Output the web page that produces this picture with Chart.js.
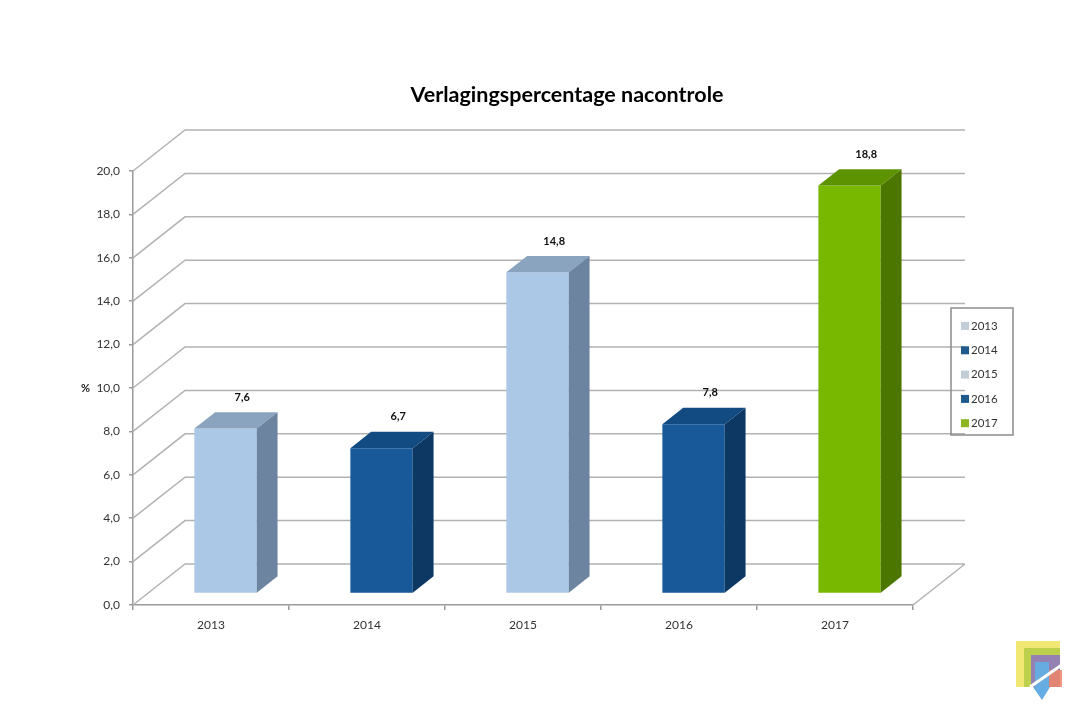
<!DOCTYPE html>
<html>
<head>
<meta charset="utf-8">
<script src="https://cdn.jsdelivr.net/npm/chart.js@4/dist/chart.umd.min.js"></script>
<style>
  html, body { margin: 0; padding: 0; background: #ffffff; }
  #wrap { width: 1070px; height: 713px; position: relative; }
</style>
</head>
<body>
<div id="wrap"><canvas id="c"></canvas></div>
<script>
// ---- data ----
const chartTitle = 'Verlagingspercentage nacontrole';
const categories = ['2013', '2014', '2015', '2016', '2017'];
const values = [7.6, 6.7, 14.8, 7.8, 18.8];
const axisUnit = '%';
const yMin = 0, yMax = 20, yStep = 2;

// ---- styles ----
const frontColors = ['#abc8e7', '#18599a', '#abc8e7', '#18599a', '#78b800'];
const topColors   = ['#8aa3be', '#124a82', '#8aa3be', '#124a82', '#5e9300'];
const sideColors  = ['#6c849f', '#0e3864', '#6c849f', '#0e3864', '#4b7700'];
const legendColors = ['#c3cdd8', '#1e5a8e', '#c3cdd8', '#1e5a8e', '#8db61e'];

const FONT = 'Lato, "Open Sans", sans-serif';
const DX = 52, DY = -41;      // full depth of the 3D box
const F0 = 0.28, F1 = 0.68;   // bar front / back depth fractions

const fmt = v => Number(v).toFixed(1).replace('.', ',');

function poly(ctx, pts, color) {
  ctx.beginPath();
  ctx.moveTo(pts[0][0], pts[0][1]);
  for (let i = 1; i < pts.length; i++) ctx.lineTo(pts[i][0], pts[i][1]);
  ctx.closePath();
  ctx.fillStyle = color;
  ctx.fill();
}

const threeD = {
  id: 'threeD',
  beforeDatasetsDraw(chart) {
    const { ctx, chartArea: a, scales: { y } } = chart;
    ctx.save();
    ctx.strokeStyle = '#b2b2b2';
    ctx.lineWidth = 1.5;
    y.ticks.forEach(t => {
      const py = y.getPixelForValue(t.value);
      ctx.beginPath();
      ctx.moveTo(a.left, py);
      ctx.lineTo(a.left + DX, py + DY);
      ctx.lineTo(a.right + DX, py + DY);
      ctx.stroke();
    });
    // floor right edge
    ctx.beginPath();
    ctx.moveTo(a.right, a.bottom);
    ctx.lineTo(a.right + DX, a.bottom + DY);
    ctx.stroke();
    ctx.restore();
    // shift bar fronts into depth
    ctx.save();
    ctx.translate(DX * F0, DY * F0);
  },
  afterDatasetsDraw(chart) {
    const { ctx } = chart;
    const meta = chart.getDatasetMeta(0);
    const dx = DX * (F1 - F0), dy = DY * (F1 - F0);
    meta.data.forEach((bar, i) => {
      const l = bar.x - bar.width / 2, r = bar.x + bar.width / 2;
      const t = bar.y, b = bar.base;
      poly(ctx, [[l, t], [l + dx, t + dy], [r + dx, t + dy], [r, t]], topColors[i]);
      poly(ctx, [[r, t], [r + dx, t + dy], [r + dx, b + dy], [r, b]], sideColors[i]);
      ctx.fillStyle = '#111';
      ctx.font = 'bold 11px ' + FONT;
      ctx.textAlign = 'center';
      ctx.textBaseline = 'middle';
      ctx.fillText(fmt(values[i]), bar.x + dx * 0.8, t + dy - 15);
    });
    ctx.restore();
  },
  afterDraw(chart) {
    const { ctx, chartArea: a, scales: { y } } = chart;
    ctx.save();
    // title
    ctx.fillStyle = '#000';
    ctx.font = 'bold 21.5px ' + FONT;
    ctx.textAlign = 'center';
    ctx.textBaseline = 'middle';
    ctx.fillText(chartTitle, 567, 95);
    // axis unit
    ctx.font = 'bold 11px ' + FONT;
    ctx.textAlign = 'left';
    ctx.fillStyle = '#222';
    ctx.fillText(axisUnit, 81, y.getPixelForValue(10));
    // legend
    const lx = 951, ly = 308, lw = 62, lh = 127;
    ctx.strokeStyle = '#8c8c8c';
    ctx.lineWidth = 1.5;
    ctx.strokeRect(lx, ly, lw, lh);
    ctx.font = '11.5px ' + FONT;
    ctx.textBaseline = 'middle';
    categories.forEach((c, i) => {
      const cy = ly + 18 + i * 24.3;
      ctx.fillStyle = legendColors[i];
      ctx.fillRect(lx + 10, cy - 4, 8, 8);
      ctx.fillStyle = '#333';
      ctx.fillText(c, lx + 20, cy);
    });
    // logo
    ctx.globalAlpha = 0.85;
    ctx.fillStyle = '#efe45a'; ctx.fillRect(1016, 641, 44, 46);
    ctx.fillStyle = '#b5cd48'; ctx.fillRect(1024, 648, 36, 39);
    ctx.fillStyle = '#8e74c4'; ctx.fillRect(1031, 655, 29, 32);
    ctx.fillStyle = '#5fb4ea'; ctx.fillRect(1035, 662, 14, 25);
    ctx.fillStyle = '#f0866a'; ctx.fillRect(1049, 670, 13, 17);
    poly(ctx, [[1033, 687], [1050, 687], [1042, 700]], '#4a9ee0');
    ctx.globalAlpha = 1;
    ctx.strokeStyle = '#ffffff'; ctx.lineWidth = 3;
    ctx.beginPath(); ctx.moveTo(1030, 687); ctx.lineTo(1063, 664); ctx.stroke();
    ctx.restore();
  }
};

new Chart(document.getElementById('c'), {
  type: 'bar',
  data: {
    labels: categories,
    datasets: [{
      label: chartTitle,
      data: values,
      backgroundColor: frontColors,
      borderWidth: 0,
      barPercentage: 0.4,
      categoryPercentage: 1.0
    }]
  },
  options: {
    responsive: true,
    maintainAspectRatio: false,
    animation: false,
    layout: { padding: { left: 73, right: 157, top: 171, bottom: 68 } },
    plugins: {
      legend: { display: false },
      title: { display: false },
      tooltip: { enabled: false }
    },
    scales: {
      x: {
        offset: true,
        afterFit: s => { s.height = 40; },
        grid: { drawOnChartArea: false, offset: true, tickLength: 5, color: '#9a9a9a', lineWidth: 1.5 },
        border: { color: '#9a9a9a', width: 1.5 },
        ticks: { color: '#333', font: { family: FONT, size: 12 }, padding: 8, maxRotation: 0 }
      },
      y: {
        min: yMin, max: yMax,
        afterFit: s => { s.width = 60; },
        grid: { drawOnChartArea: false, tickLength: 4, color: '#9a9a9a', lineWidth: 1.5 },
        border: { color: '#9a9a9a', width: 1.5 },
        ticks: { stepSize: yStep, color: '#333', font: { family: FONT, size: 12 }, padding: 9, callback: v => fmt(v) }
      }
    }
  },
  plugins: [threeD]
});
</script>
</body>
</html>
